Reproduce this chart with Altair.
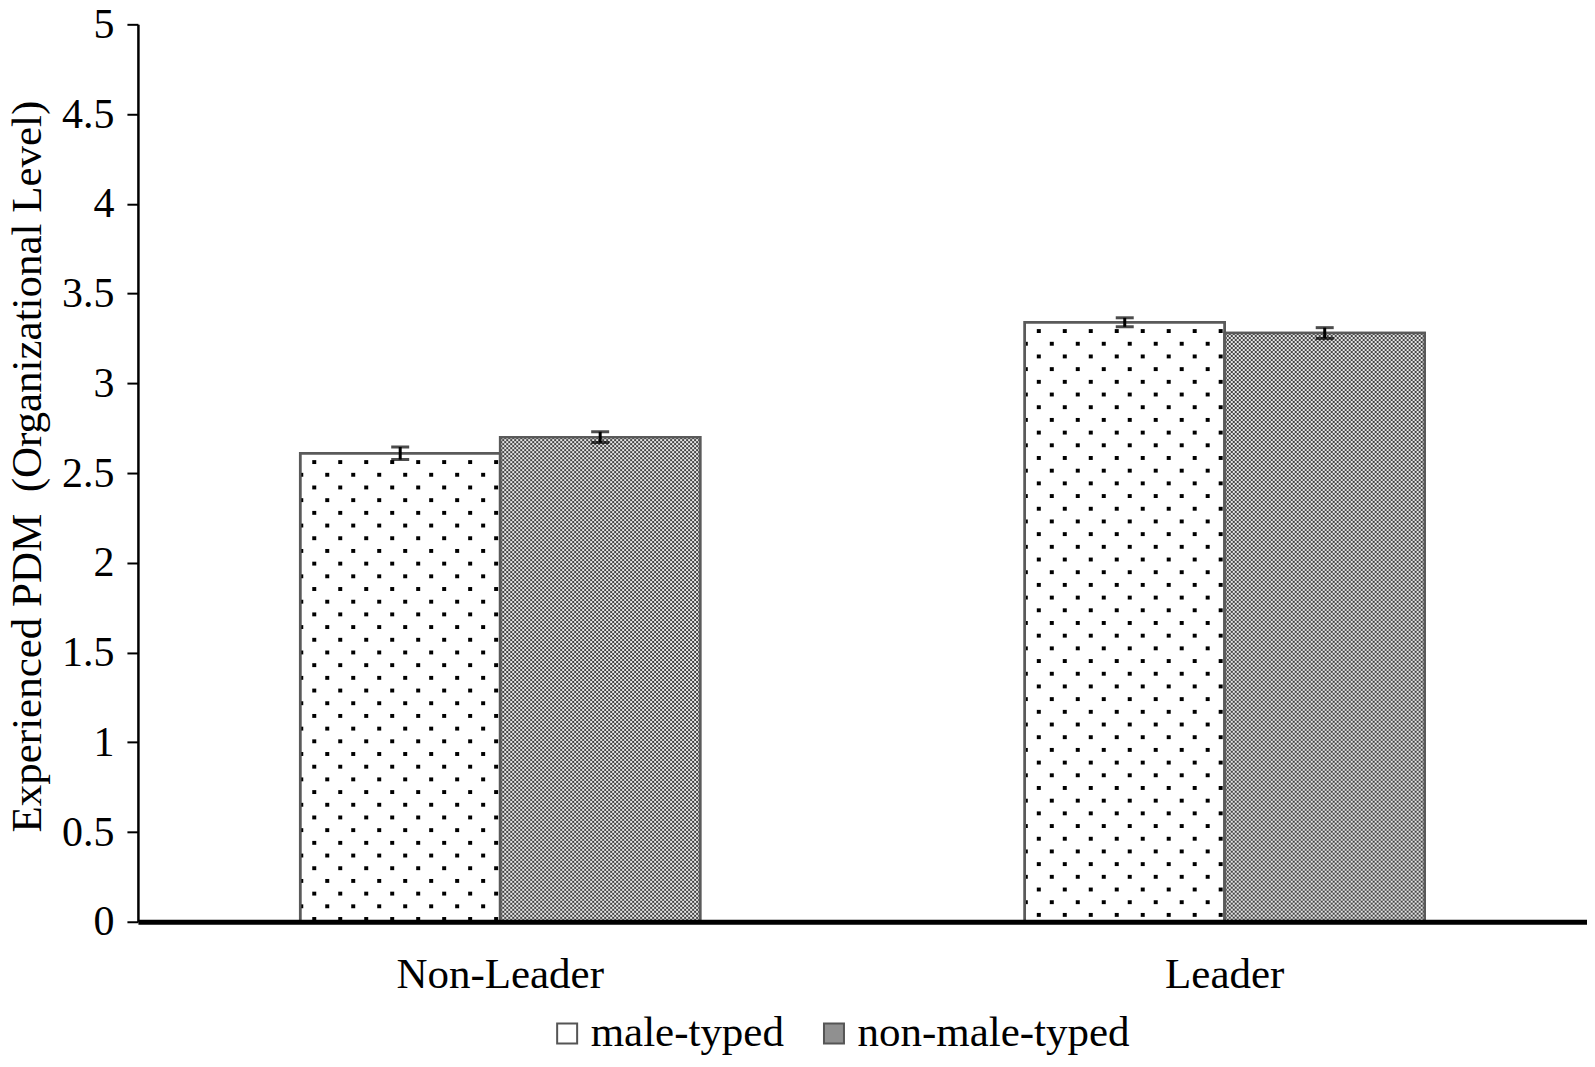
import altair as alt
import pandas as pd
from urllib.parse import quote

# ---- data ----
categories = ["Non-Leader", "Non-Leader", "Leader", "Leader"]
series = ["male-typed", "non-male-typed", "male-typed", "non-male-typed"]
means = [2.61, 2.70, 3.34, 3.28]
errors = [0.035, 0.030, 0.025, 0.030]

cat_order = ["Non-Leader", "Leader"]
series_order = ["male-typed", "non-male-typed"]
fills = ["#ffffff", "#909090"]
y_ticks = [0, 0.5, 1, 1.5, 2, 2.5, 3, 3.5, 4, 4.5, 5]
y_title = "Experienced PDM\u00a0 (Organizational Level)"

df = pd.DataFrame({"category": categories, "series": series,
                   "mean": means, "err": errors})
df["lo"] = df["mean"] - df["err"]
df["hi"] = df["mean"] + df["err"]

FONT = "Liberation Serif"
W, H = 1450, 898
BAR_W = 200

# texture images (styles) for the bar fills
dots_svg = (
    "<svg xmlns='http://www.w3.org/2000/svg' width='%d' height='%d' shape-rendering='crispEdges'>"
    "<defs><pattern id='p' width='26' height='25.4' patternUnits='userSpaceOnUse'>"
    "<rect x='12' y='7' width='3.5' height='3.5' fill='#000'/>"
    "<rect x='-1' y='19.7' width='3.5' height='3.5' fill='#000'/>"
    "<rect x='25' y='19.7' width='3.5' height='3.5' fill='#000'/>"
    "</pattern></defs>"
    "<rect width='100%%' height='100%%' fill='url(#p)'/></svg>" % (BAR_W, H))
check_svg = (
    "<svg xmlns='http://www.w3.org/2000/svg' width='%d' height='%d' shape-rendering='crispEdges'>"
    "<defs><pattern id='q' width='4' height='4' patternUnits='userSpaceOnUse'>"
    "<rect width='4' height='4' fill='#e6e6e6'/>"
    "<rect x='0' y='0' width='2' height='2' fill='#444444'/>"
    "<rect x='2' y='2' width='2' height='2' fill='#444444'/>"
    "</pattern></defs>"
    "<rect width='100%%' height='100%%' fill='url(#q)'/></svg>" % (BAR_W, H))
dots_url = "data:image/svg+xml;charset=utf-8," + quote(dots_svg)
check_url = "data:image/svg+xml;charset=utf-8," + quote(check_svg)

x_enc = alt.X("category:N", sort=cat_order,
              scale=alt.Scale(paddingInner=0.448, paddingOuter=0.224),
              axis=alt.Axis(title=None, ticks=False, tickSize=0, labelPadding=32,
                            labelFontSize=43, labelFont=FONT, labelColor="black",
                            labelAngle=0, labelLimit=0, domainColor="black",
                            domainWidth=5, zindex=1))
x_plain = alt.X("category:N", sort=cat_order)
xo_enc = alt.XOffset("series:N", sort=series_order)

y_scale = alt.Scale(domain=[0, 5], nice=False)

bars = alt.Chart(df).mark_bar(stroke="#5a5a5a", strokeWidth=2.5).encode(
    x=x_enc,
    xOffset=xo_enc,
    y=alt.Y("mean:Q", scale=y_scale,
            axis=alt.Axis(values=y_ticks, format="~g", grid=False,
                          title=y_title, titleFont=FONT, titleFontSize=43,
                          titleFontWeight="normal", titleColor="black",
                          titleAngle=270, titleX=-97, titleY=442,
                          titleAlign="center", titleBaseline="alphabetic",
                          labelFont=FONT, labelFontSize=42, labelColor="black",
                          labelPadding=13, tickSize=11, tickWidth=2,
                          tickColor="black", domainColor="black",
                          domainWidth=2.5)),
    fill=alt.Fill("series:N", sort=series_order,
                  scale=alt.Scale(domain=series_order, range=fills),
                  legend=alt.Legend(title=None, orient="none", legendX=408,
                                    legendY=988, direction="horizontal",
                                    symbolType="square", symbolSize=400,
                                    symbolStrokeColor="#555555",
                                    symbolStrokeWidth=2, labelFont=FONT,
                                    labelFontSize=43, labelColor="black",
                                    labelLimit=0, labelOffset=2,
                                    columnPadding=28)),
)

tex_male = alt.Chart(df).transform_filter(
    alt.datum.series == "male-typed"
).mark_image(url=dots_url, width=BAR_W, height=H, align="center",
             baseline="top", aspect=False, clip=True).encode(
    x=x_plain, xOffset=xo_enc, y=alt.Y("mean:Q", scale=y_scale))

tex_non = alt.Chart(df).transform_filter(
    alt.datum.series == "non-male-typed"
).mark_image(url=check_url, width=BAR_W, height=H, align="center",
             baseline="top", aspect=False, clip=True).encode(
    x=x_plain, xOffset=xo_enc, y=alt.Y("mean:Q", scale=y_scale))

outline = alt.Chart(df).mark_bar(fillOpacity=0, stroke="#5a5a5a",
                                 strokeWidth=2.5).encode(
    x=x_plain, xOffset=xo_enc, y=alt.Y("mean:Q", scale=y_scale))

rule = alt.Chart(df).mark_rule(color="black", strokeWidth=3).encode(
    x=x_plain, xOffset=xo_enc,
    y=alt.Y("lo:Q", scale=y_scale), y2="hi:Q")

cap_lo = alt.Chart(df).mark_tick(color="black", thickness=3, size=18,
                                 orient="horizontal").encode(
    x=x_plain, xOffset=xo_enc, y=alt.Y("lo:Q", scale=y_scale))

cap_hi = alt.Chart(df).mark_tick(color="black", thickness=3, size=18,
                                 orient="horizontal").encode(
    x=x_plain, xOffset=xo_enc, y=alt.Y("hi:Q", scale=y_scale))

chart = alt.layer(bars, tex_male, tex_non, outline, rule, cap_lo, cap_hi).properties(
    width=W, height=H,
    autosize=alt.AutoSizeParams(type="none"),
    padding={"left": 130, "top": 16, "right": 0, "bottom": 142},
    background="white",
).configure_view(stroke=None)

chart.save("out.html", embed_options={"renderer": "svg", "actions": False})
